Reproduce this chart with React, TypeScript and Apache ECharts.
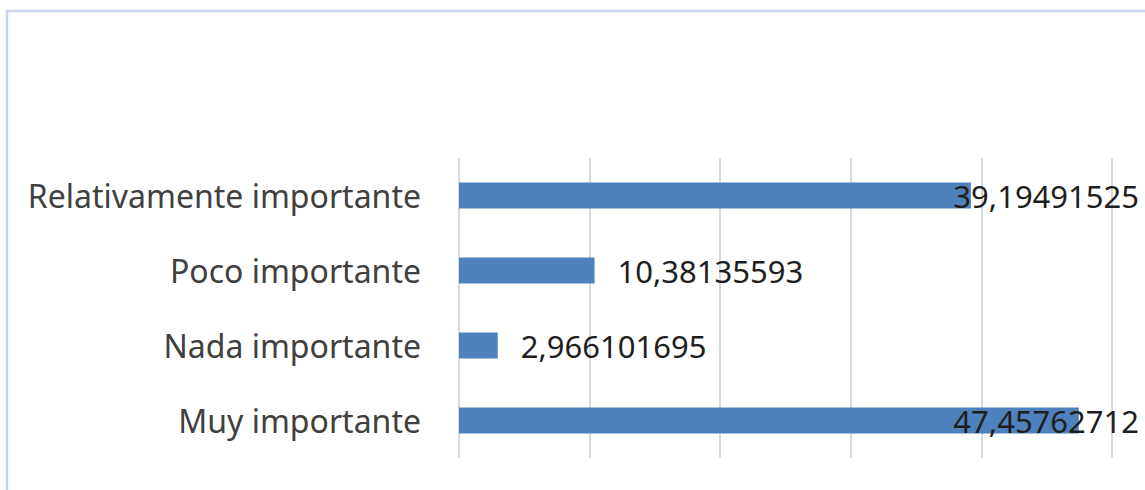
import React, { useEffect, useRef } from "react";
import * as echarts from "echarts";

const categories = ["Muy importante", "Nada importante", "Poco importante", "Relativamente importante"];
const values = [47.45762712, 2.966101695, 10.38135593, 39.19491525];
const axisMin = 0;
const axisMax = 50;
const axisInterval = 10;

export default function App() {
  const ref = useRef<HTMLDivElement>(null);
  useEffect(() => {
    if (!ref.current) return;
    const chart = echarts.init(ref.current, undefined, { renderer: "svg" });
    const limit = chart.getWidth() - 6;
    chart.setOption({
      animation: false,
      backgroundColor: "#ffffff",
      graphic: [
        {
          type: "rect",
          shape: { x: 7, y: 11, width: 1300, height: 700 },
          style: { fill: "none", stroke: "#c6d5ea", lineWidth: 2.5 },
          silent: true,
        },
      ],
      grid: { left: 459, right: 33, top: 158, bottom: 32, containLabel: false },
      xAxis: {
        type: "value",
        min: axisMin,
        max: axisMax,
        interval: axisInterval,
        axisLabel: { show: false },
        axisLine: { show: false },
        axisTick: { show: false },
        splitLine: { show: true, lineStyle: { color: "#d9d9d9", width: 2 } },
      },
      yAxis: {
        type: "category",
        data: categories,
        axisLine: { show: false },
        axisTick: { show: false },
        axisLabel: {
          margin: 38,
          fontFamily: "Noto Sans",
          fontSize: 32,
          color: "#404040",
        },
      },
      series: [
        {
          type: "bar",
          data: values,
          barWidth: 26,
          itemStyle: { color: "#4f81bd" },
          label: {
            show: true,
            position: "right",
            distance: 23,
            fontFamily: "Noto Sans",
            fontSize: 31,
            color: "#1e1e1e",
            formatter: (p: any) => String(p.value).replace(".", ","),
          },
          labelLayout: (params: any) => {
            const r = params.labelRect;
            if (r.x + r.width > limit) {
              return { dx: limit - (r.x + r.width) };
            }
            return {};
          },
        },
      ],
    });
    return () => chart.dispose();
  }, []);
  return (
    <div
      ref={ref}
      style={{ position: "fixed", left: 0, top: 0, width: 1145, height: 490 }}
    />
  );
}
